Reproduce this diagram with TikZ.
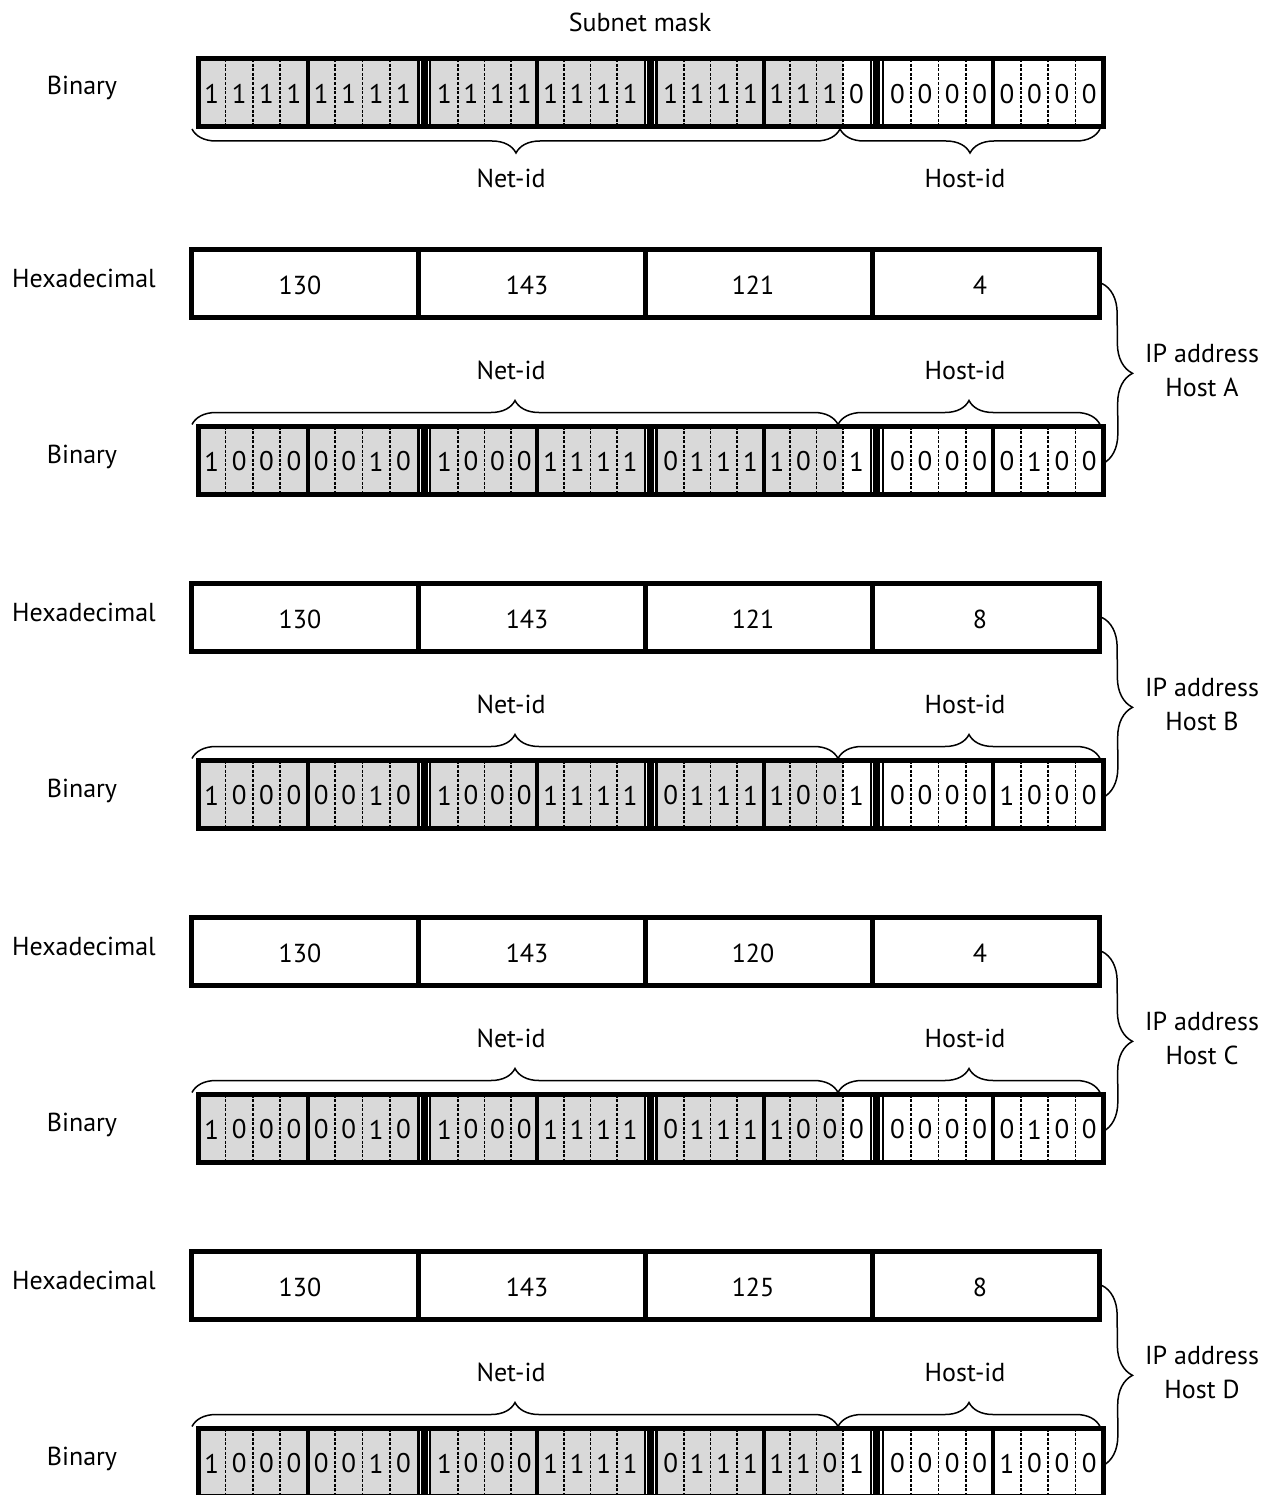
\documentclass[tikz,border=0pt]{standalone}
\usepackage{fontspec}
\setmainfont{PT Sans}
\usetikzlibrary{decorations.pathreplacing}
\definecolor{netgray}{RGB}{217,217,217}
\tikzset{
  lbl/.style={font=\fontsize{26}{34}\selectfont, inner sep=0pt, align=center},
  bitlbl/.style={font=\fontsize{27}{28}\selectfont, inner sep=0pt},
  dashsep/.style={line width=1.5pt, dash pattern=on 3pt off 1.6pt},
  nibsep/.style={line width=4pt},
  framebox/.style={line width=5pt},
  brc/.style={line width=1.5pt, decorate, decoration={brace, amplitude=#1}},
  brc/.default=24pt
}
\newcommand\binrow[3]{%
  \pgfmathsetmacro\myyt{#2}%
  \pgfmathsetmacro\myyb{#2+67.5}%
  \fill[netgray] (198,\myyt) rectangle (843.2,\myyb);
  \foreach \bv [count=\ii from 0] in {#3} {
    \pgfmathtruncatemacro\mykk{int(\ii/8)}%
    \pgfmathtruncatemacro\myjj{mod(\ii,8)}%
    \pgfmathsetmacro\mycl{{198,431.25,657.5,883.75}[\mykk]}%
    \pgfmathsetmacro\mycr{{417.25,643.5,869.75,1103}[\mykk]}%
    \pgfmathsetmacro\mycw{(\mycr-\mycl)/8}%
    \ifnum\myjj=3
      \draw[nibsep] (\mycl+4*\mycw,\myyt) -- (\mycl+4*\mycw,\myyb);
    \else\ifnum\myjj=7
    \else
      \draw[dashsep] (\mycl+\myjj*\mycw+\mycw,\myyt) -- (\mycl+\myjj*\mycw+\mycw,\myyb);
    \fi\fi
    \node[bitlbl] (#1\ii) at (\mycl+\myjj*\mycw+0.5*\mycw,\myyt+35) {\bv};
  }
  \foreach \bs in {424.25,650.5,876.75} {
    \fill (\bs-7,\myyt) rectangle (\bs+7,\myyb);
    \fill[white] (\bs-4.6,\myyt) rectangle (\bs-3.4,\myyb);
    \fill[white] (\bs+3.6,\myyt) rectangle (\bs+4.9,\myyb);
  }
  \draw[framebox] (198,\myyt) rectangle (1103,\myyb);
}
\newcommand\hexrow[6]{%
  \pgfmathsetmacro\myht{#2}%
  \draw[framebox] (191.5,\myht) rectangle (1099.5,\myht+68);
  \foreach \hx in {418.5,645.5,872.5} \draw[line width=4.5pt] (\hx,\myht) -- (\hx,\myht+68);
  \node[lbl] (#1a) at (300,\myht+36) {#3};
  \node[lbl] (#1b) at (527,\myht+36) {#4};
  \node[lbl] (#1c) at (753,\myht+36) {#5};
  \node[lbl] (#1d) at (980,\myht+36) {#6};
}
\newcommand\hostblock[7]{%
  \pgfmathsetmacro\myhy{#2}%
  \hexrow{hex#1}{\myhy}{#3}{#4}{#5}{#6}
  \pgfmathsetmacro\myby{\myhy+177}%
  \node[lbl] (hexl#1) at (84,\myhy+28.5) {Hexadecimal};
  \node[lbl] (binl#1) at (82,\myby+30.5) {Binary};
  \node[lbl] (net#1) at (511,\myby-56.5) {Net-id};
  \node[lbl] (host#1) at (965,\myby-56.5) {Host-id};
  \coordinate (nl#1) at (192,\myby-2);
  \coordinate (nm#1) at (838,\myby-2);
  \coordinate (nr#1) at (1100,\myby-2);
  \draw[brc] (nl#1) -- (nm#1);
  \draw[brc] (nm#1) -- (nr#1);
  \coordinate (rt#1) at (1102,\myhy+34);
  \coordinate (rb#1) at (1103,\myby+37);
  \draw[brc=30pt] (rt#1) -- (rb#1);
  \node[lbl] (ip#1) at (1202,\myhy+121) {IP address\\Host #1};
  \binrow{bit#1}{\myby}{#7}
}
\begin{document}
\begin{tikzpicture}[x=1pt,y=-1pt]
\useasboundingbox (0,0) rectangle (1281,1495);
\fill[white] (0,0) rectangle (1281,1495);
% subnet mask
\node[lbl] (title) at (640,22) {Subnet mask};
\node[lbl] (binlM) at (82,88) {Binary};
\binrow{maskbit}{59}{1,1,1,1,1,1,1,1,1,1,1,1,1,1,1,1,1,1,1,1,1,1,1,0,0,0,0,0,0,0,0,0}
\coordinate (ml) at (192,129);
\coordinate (mm) at (840,129);
\coordinate (mr) at (1100,129);
\draw[brc] (mm) -- (ml);
\draw[brc] (mr) -- (mm);
\node[lbl] (netM) at (511,178) {Net-id};
\node[lbl] (hostM) at (965,178) {Host-id};
% hosts
\hostblock{A}{249.5}{130}{143}{121}{4}{1,0,0,0,0,0,1,0,1,0,0,0,1,1,1,1,0,1,1,1,1,0,0,1,0,0,0,0,0,1,0,0}
\hostblock{B}{583.5}{130}{143}{121}{8}{1,0,0,0,0,0,1,0,1,0,0,0,1,1,1,1,0,1,1,1,1,0,0,1,0,0,0,0,1,0,0,0}
\hostblock{C}{917.5}{130}{143}{120}{4}{1,0,0,0,0,0,1,0,1,0,0,0,1,1,1,1,0,1,1,1,1,0,0,0,0,0,0,0,0,1,0,0}
\hostblock{D}{1251.5}{130}{143}{125}{8}{1,0,0,0,0,0,1,0,1,0,0,0,1,1,1,1,0,1,1,1,1,1,0,1,0,0,0,0,1,0,0,0}
\end{tikzpicture}
\end{document}
